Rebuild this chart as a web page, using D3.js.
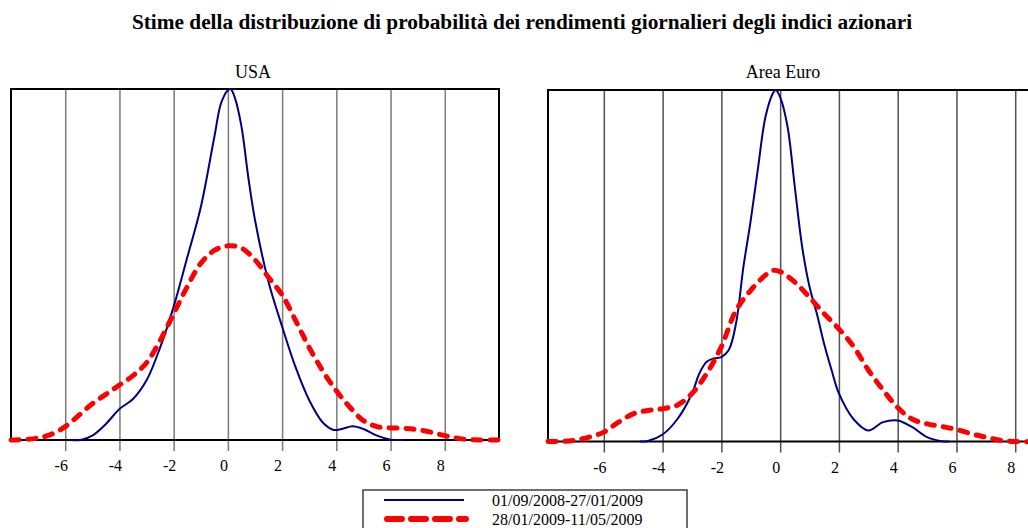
<!DOCTYPE html>
<html>
<head>
<meta charset="utf-8">
<script src="https://cdn.jsdelivr.net/npm/d3@7"></script>
<style>
  html, body { margin: 0; padding: 0; background: #fff; }
  svg { display: block; font-family: "Liberation Serif", "Times New Roman", serif; }
</style>
</head>
<body>
<svg id="chart" width="1028" height="528"></svg>
<script>
// Daily stock index returns (%), kernel density estimates
const titleText = "Stime della distribuzione di probabilità dei rendimenti giornalieri degli indici azionari";
const panelTitles = ["USA", "Area Euro"];
const seriesLabels = ["01/09/2008-27/01/2009", "28/01/2009-11/05/2009"];
const tickValues = [-6, -4, -2, 0, 2, 4, 6, 8];

// USA, first period
const usaX1 = [-5.85, -5.4, -5, -4.5, -4, -3.5, -3, -2.5, -2, -1.5, -1, -0.5, -0.25, 0, 0.1, 0.25, 0.5, 0.75, 1, 1.5, 2, 2.5, 3, 3.5, 3.9, 4.2, 4.6, 5, 5.5, 6, 6.5];
const usaY1 = [0, 0.0003, 0.0037, 0.0137, 0.0265, 0.035, 0.051, 0.079, 0.114, 0.156, 0.199, 0.259, 0.288, 0.299, 0.300, 0.293, 0.268, 0.225, 0.188, 0.135, 0.097, 0.062, 0.034, 0.015, 0.0086, 0.0094, 0.0117, 0.0094, 0.0037, 0.0003, 0];
// USA, second period
const usaX2 = [-8, -7.5, -7, -6.5, -6, -5.5, -5, -4.5, -4, -3.5, -3, -2.5, -2, -1.5, -1, -0.5, 0, 0.5, 1, 1.5, 2, 2.5, 3, 3.5, 4, 4.5, 5, 5.5, 6, 6.5, 7, 7.5, 8, 8.5, 9, 10];
const usaY2 = [0, 0.0005, 0.0017, 0.005, 0.0114, 0.021, 0.031, 0.039, 0.047, 0.055, 0.066, 0.085, 0.108, 0.131, 0.151, 0.162, 0.166, 0.164, 0.154, 0.139, 0.124, 0.102, 0.079, 0.059, 0.042, 0.028, 0.0166, 0.0114, 0.0103, 0.010, 0.0088, 0.0066, 0.0037, 0.0014, 0.0002, 0];

// Euro area, first period
const euroX1 = [-4.78, -4.5, -4, -3.5, -3, -2.75, -2.5, -2.25, -2, -1.75, -1.5, -1.25, -1, -0.75, -0.5, -0.25, -0.15, 0, 0.25, 0.5, 0.75, 1, 1.25, 1.5, 1.75, 2, 2.5, 3, 3.5, 4, 4.5, 5, 5.5, 5.75];
const euroY1 = [0, 0.0005, 0.006, 0.019, 0.041, 0.058, 0.068, 0.071, 0.072, 0.078, 0.101, 0.149, 0.189, 0.234, 0.277, 0.297, 0.300, 0.294, 0.269, 0.217, 0.166, 0.132, 0.109, 0.083, 0.061, 0.041, 0.019, 0.0094, 0.0165, 0.018, 0.0122, 0.0037, 0.0003, 0];
// Euro area, second period
const euroX2 = [-7.9, -7.5, -7, -6.5, -6, -5.5, -5, -4.5, -4, -3.5, -3, -2.5, -2, -1.5, -1, -0.5, -0.25, 0, 0.5, 1, 1.5, 2, 2.5, 3, 3.5, 4, 4.5, 5, 5.5, 6, 6.5, 7, 7.5, 8, 9, 10];
const euroY2 = [0, 0, 0.001, 0.0037, 0.008, 0.0165, 0.0236, 0.0265, 0.028, 0.031, 0.041, 0.058, 0.081, 0.112, 0.129, 0.142, 0.146, 0.145, 0.136, 0.123, 0.109, 0.096, 0.081, 0.061, 0.044, 0.029, 0.019, 0.015, 0.0128, 0.0103, 0.0066, 0.0037, 0.001, 0, 0, 0];

const svg = d3.select("#chart");

svg.append("text")
  .attr("x", 522).attr("y", 29)
  .attr("text-anchor", "middle")
  .style("font-weight", "bold").style("font-size", "21.3px")
  .text(titleText);

const panels = [
  { title: panelTitles[0], titleX: 253, left: 11, right: 499, top: 89, bottom: 440,
    domain: [-8, 10], grid: "#7a7a7a",
    s1: usaX1.map((x, i) => [x, usaY1[i]]), s2: usaX2.map((x, i) => [x, usaY2[i]]) },
  { title: panelTitles[1], titleX: 783, left: 548, right: 1074, top: 90, bottom: 441.5,
    domain: [-7.9, 10], grid: "#505050",
    s1: euroX1.map((x, i) => [x, euroY1[i]]), s2: euroX2.map((x, i) => [x, euroY2[i]]) }
];

panels.forEach(p => {
  const x = d3.scaleLinear().domain(p.domain).range([p.left, p.right]);
  const y = d3.scaleLinear().domain([0, 0.30]).range([p.bottom, p.top]);
  const g = svg.append("g");

  // vertical grid lines continuing as ticks below the axis
  const axis = d3.axisBottom(x).tickValues(tickValues).tickSize(11).tickSizeOuter(0)
    .tickFormat(d => String(d));
  const ax = g.append("g").attr("transform", `translate(0,${p.bottom})`).call(axis);
  ax.select(".domain").remove();
  ax.selectAll(".tick line")
    .attr("y1", p.top - p.bottom)
    .attr("stroke", p.grid).attr("stroke-width", 1.5);
  ax.selectAll(".tick text")
    .attr("y", 31).attr("dy", 0).attr("dx", -4.5)
    .attr("fill", "#000")
    .style("font-size", "16px")
    .style("font-family", "'Liberation Serif', 'Times New Roman', serif");

  // frame: left, top, right, plus the zero baseline
  g.append("path")
    .attr("d", `M${p.left},${p.bottom}V${p.top}H${p.right}V${p.bottom}`)
    .attr("fill", "none").attr("stroke", "#000").attr("stroke-width", 2);
  g.append("line")
    .attr("x1", p.left).attr("x2", p.right)
    .attr("y1", p.bottom).attr("y2", p.bottom)
    .attr("stroke", "#000").attr("stroke-width", 2);

  const line = d3.line().x(d => x(d[0])).y(d => y(d[1])).curve(d3.curveCatmullRom.alpha(0.5));

  g.append("path").attr("d", line(p.s1))
    .attr("fill", "none").attr("stroke", "#000080").attr("stroke-width", 2);
  g.append("path").attr("d", line(p.s2))
    .attr("fill", "none").attr("stroke", "#ff0000").attr("stroke-width", 5)
    .attr("stroke-dasharray", "8,9").attr("stroke-linecap", "round");

  g.append("text")
    .attr("x", p.titleX).attr("y", 78)
    .attr("text-anchor", "middle").style("font-size", "18px")
    .text(p.title);
});

// legend
const lg = svg.append("g");
lg.append("rect").attr("x", 363).attr("y", 490).attr("width", 324).attr("height", 60)
  .attr("fill", "#fff").attr("stroke", "#404040").attr("stroke-width", 1.5);
lg.append("line").attr("x1", 384).attr("x2", 464).attr("y1", 500).attr("y2", 500)
  .attr("stroke", "#000080").attr("stroke-width", 2);
lg.append("line").attr("x1", 387).attr("x2", 466).attr("y1", 519).attr("y2", 519)
  .attr("stroke", "#ff0000").attr("stroke-width", 6)
  .attr("stroke-dasharray", "15,9").attr("stroke-linecap", "round");
lg.selectAll("text.lbl").data(seriesLabels).join("text")
  .attr("class", "lbl")
  .attr("x", 492).attr("y", (d, i) => 506 + i * 19)
  .style("font-size", "16px")
  .text(d => d);
</script>
</body>
</html>
